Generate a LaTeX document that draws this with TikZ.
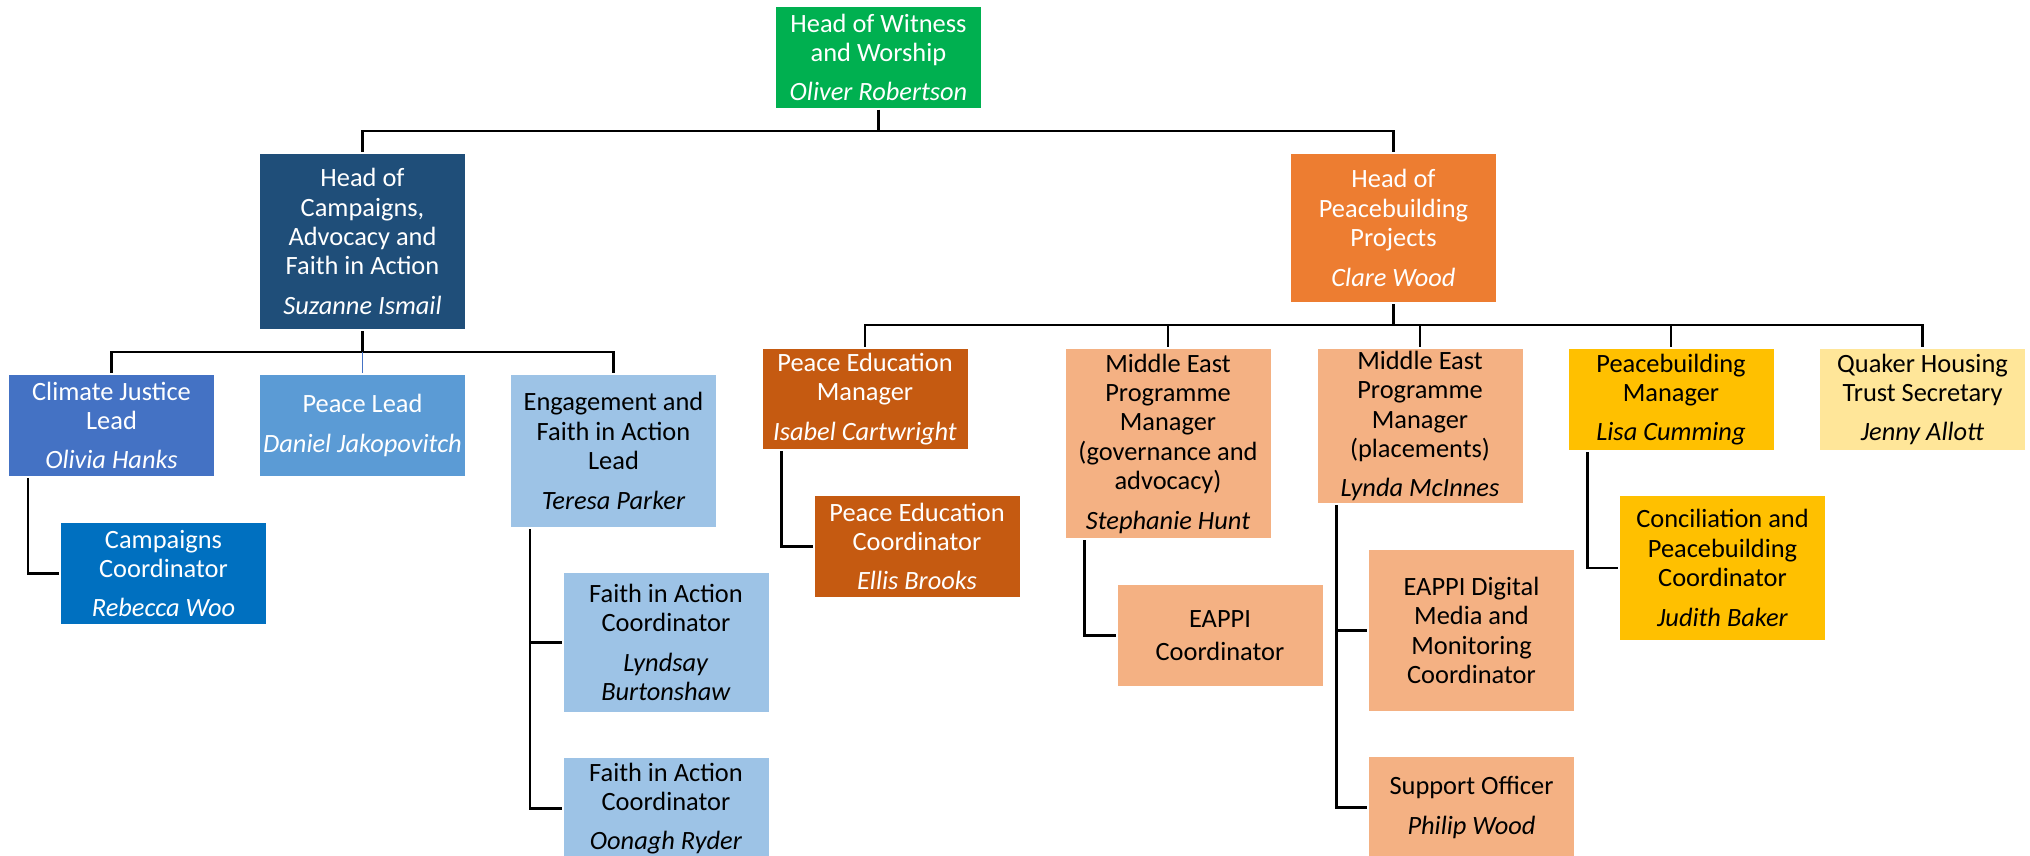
\documentclass[tikz,border=0pt]{standalone}
\usepackage{fontspec}
\setmainfont{Carlito}
\definecolor{wwgreen}{HTML}{00B050}
\definecolor{cadark}{HTML}{1F4E79}
\definecolor{cjblue}{HTML}{4472C4}
\definecolor{plblue}{HTML}{5B9BD5}
\definecolor{eflight}{HTML}{9DC3E6}
\definecolor{ccblue}{HTML}{0070C0}
\definecolor{pborange}{HTML}{ED7D31}
\definecolor{pedark}{HTML}{C55A11}
\definecolor{mepeach}{HTML}{F4B183}
\definecolor{pbgold}{HTML}{FFC000}
\definecolor{qhyellow}{HTML}{FFE699}
\begin{document}
\begin{tikzpicture}[x=0.5pt,y=-0.5pt,
        role/.style={minimum width=102.5pt,inner sep=0pt,outer sep=1pt,align=center,font=\fontsize{13.2}{14.7}\selectfont},
        link/.style={line width=1.3pt}]
                \useasboundingbox (0,0) rectangle (2030,856);
                \node[role,fill=wwgreen,text=white,minimum height=50.5pt] (W) at (878.5,57.5) {Head of Witness\\and Worship\\[5pt]\textit{Oliver Robertson}};
                \node[role,fill=cadark,text=white,minimum height=87.5pt] (CA) at (362.5,241.5) {Head of\\Campaigns,\\Advocacy and\\Faith in Action\\[5pt]\textit{Suzanne Ismail}};
                \node[role,fill=pborange,text=white,minimum height=74pt] (PB) at (1393.5,228) {Head of\\Peacebuilding\\Projects\\[5pt]\textit{Clare Wood}};
                \node[role,fill=cjblue,text=white,minimum height=50.5pt] (CJ) at (111.5,425.5) {Climate Justice\\Lead\\[5pt]\textit{Olivia Hanks}};
                \node[role,fill=plblue,text=white,minimum height=50.5pt] (PL) at (362.5,425.5) {Peace Lead\\[5pt]\textit{Daniel Jakopovitch}};
                \node[role,fill=eflight,minimum height=76pt] (EF) at (613.5,451) {Engagement and\\Faith in Action\\Lead\\[5pt]\textit{Teresa Parker}};
                \node[role,fill=ccblue,text=white,minimum height=50.5pt] (CC) at (163.5,573.5) {Campaigns\\Coordinator\\[5pt]\textit{Rebecca Woo}};
                \node[role,fill=eflight,minimum height=69.5pt] (FA1) at (666,642.5) {Faith in Action\\Coordinator\\[5pt]\textit{Lyndsay}\\\textit{Burtonshaw}};
                \node[role,fill=eflight,minimum height=50.5pt] (FA2) at (666,808.5) {Faith in Action\\Coordinator\\[5pt]\textit{Oonagh Ryder}};
                \node[role,fill=pedark,text=white,minimum height=50pt] (PEM) at (865,399) {Peace Education\\Manager\\[5pt]\textit{Isabel Cartwright}};
                \node[role,fill=pedark,text=white,minimum height=50.5pt] (PEC) at (917,546.5) {Peace Education\\Coordinator\\[5pt]\textit{Ellis Brooks}};
                \node[role,fill=mepeach,minimum height=94.5pt] (ME1) at (1168,443.5) {Middle East\\Programme\\Manager\\(governance and\\advocacy)\\[5pt]\textit{Stephanie Hunt}};
                \node[role,fill=mepeach,minimum height=77pt] (ME2) at (1420,426) {Middle East\\Programme\\Manager\\(placements)\\[5pt]\textit{Lynda McInnes}};
                \node[role,fill=pbgold,minimum height=50.5pt] (PBM) at (1671,399.5) {Peacebuilding\\Manager\\[5pt]\textit{Lisa Cumming}};
                \node[role,fill=qhyellow,minimum height=50.5pt] (QH) at (1922.5,399.5) {Quaker Housing\\Trust Secretary\\[5pt]\textit{Jenny Allott}};
                \node[role,fill=mepeach,minimum height=50.5pt] (EC) at (1220,635.5) {EAPPI\\[2pt]Coordinator};
                \node[role,fill=mepeach,minimum height=80.5pt] (ED) at (1471.5,630.5) {EAPPI Digital\\Media and\\Monitoring\\Coordinator};
                \node[role,fill=mepeach,minimum height=50.5pt] (SO) at (1471.5,807.5) {Support Officer\\[5pt]\textit{Philip Wood}};
                \node[role,fill=pbgold,minimum height=72pt] (CP) at (1722.5,568) {Conciliation and\\Peacebuilding\\Coordinator\\[5pt]\textit{Judith Baker}};
                \draw[link] (W.south) -- ++(0,21) -| (CA.north);
                \draw[link] (W.south) -- ++(0,21) -| (PB.north);
                \draw[link] (CA.south) -- ++(0,21) -| (CJ.north);
                \draw[link] (CA.south) -- ++(0,21) -| (EF.north);
                \draw[line width=0.8pt,cjblue] (PL.north) -- ++(0,-21);
                \draw[link] (PB.south) -- ++(0,21) -| (PEM.north);
                \draw[link] (PB.south) -- ++(0,21) -| (ME1.north);
                \draw[link] (PB.south) -- ++(0,21) -| (ME2.north);
                \draw[link] (PB.south) -- ++(0,21) -| (PBM.north);
                \draw[link] (PB.south) -- ++(0,21) -| (QH.north);
                \draw[link] ([xshift=10.5pt]CJ.south west) |- (CC.west);
                \draw[link] ([xshift=10.5pt]EF.south west) |- (FA1.west);
                \draw[link] ([xshift=10.5pt]EF.south west) |- (FA2.west);
                \draw[link] ([xshift=10.5pt]PEM.south west) |- (PEC.west);
                \draw[link] ([xshift=10.5pt]ME1.south west) |- (EC.west);
                \draw[link] ([xshift=10.5pt]ME2.south west) |- (ED.west);
                \draw[link] ([xshift=10.5pt]ME2.south west) |- (SO.west);
                \draw[link] ([xshift=10.5pt]PBM.south west) |- (CP.west);
            \end{tikzpicture}
\end{document}
